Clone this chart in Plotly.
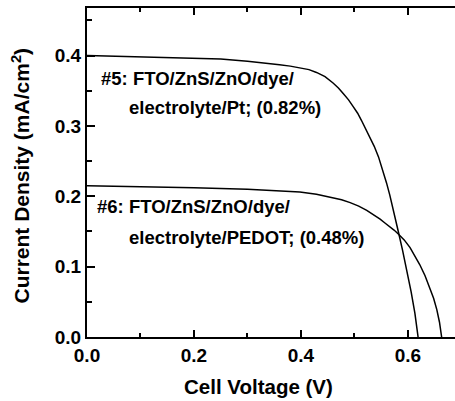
import plotly.graph_objects as go

# Cell #5: FTO/ZnS/ZnO/dye/electrolyte/Pt
v5 = [0.00, 0.05, 0.10, 0.15, 0.20, 0.25, 0.30, 0.33, 0.36, 0.38, 0.398, 0.415, 0.429, 0.445,
      0.460, 0.470, 0.479, 0.489, 0.498, 0.506, 0.513, 0.521, 0.529, 0.537, 0.545, 0.553,
      0.560, 0.566, 0.574, 0.582, 0.590, 0.598, 0.606, 0.613, 0.619]
j5 = [0.400, 0.399, 0.398, 0.397, 0.396, 0.395, 0.392, 0.390, 0.387, 0.385, 0.382, 0.380, 0.376, 0.370,
      0.361, 0.354, 0.346, 0.337, 0.327, 0.318, 0.308, 0.296, 0.284, 0.271, 0.256, 0.237,
      0.219, 0.202, 0.178, 0.150, 0.123, 0.095, 0.064, 0.034, 0.000]

# Cell #6: FTO/ZnS/ZnO/dye/electrolyte/PEDOT
v6 = [0.00, 0.10, 0.20, 0.30, 0.35, 0.398, 0.429, 0.460, 0.476, 0.492, 0.508, 0.523, 0.536,
      0.548, 0.557, 0.566, 0.574, 0.582, 0.593, 0.604, 0.613, 0.622, 0.632, 0.641, 0.648,
      0.654, 0.659, 0.663]
j6 = [0.215, 0.214, 0.212, 0.210, 0.208, 0.206, 0.203, 0.198, 0.195, 0.191, 0.186, 0.180, 0.174,
      0.1675, 0.162, 0.157, 0.152, 0.1465, 0.138, 0.127, 0.116, 0.103, 0.087, 0.070, 0.055,
      0.039, 0.021, 0.000]

label5 = ["#5: FTO/ZnS/ZnO/dye/", "electrolyte/Pt; (0.82%)"]
label6 = ["#6: FTO/ZnS/ZnO/dye/", "electrolyte/PEDOT; (0.48%)"]

x_title = "Cell Voltage (V)"
y_title = "Current Density (mA/cm<sup>2</sup>)"

FONT = "Arial, Liberation Sans, Helvetica, sans-serif"

fig = go.Figure()
for v, j in ((v5, j5), (v6, j6)):
    fig.add_trace(go.Scatter(x=v, y=j, mode="lines", line=dict(color="black", width=1.5),
                             showlegend=False, hoverinfo="skip"))

W, H = 455, 401
L, R, T, B = 87, 0, 8, 64
pw = W - L - R
ph = H - T - B
xmax = 0.688
ymax = 0.4676

def px2x(px):
    return (px - L) / pw * xmax

def py2y(py):
    return (H - B - py) / ph * ymax

ann_font = dict(family=FONT, size=18.5, color="black", weight="bold")
anns = [
    (label5[0], 101, 85),
    (label5[1], 129, 114),
    (label6[0], 97, 213),
    (label6[1], 128.5, 244),
]
for txt, xl, base in anns:
    fig.add_annotation(x=px2x(xl), y=py2y(base - 6.6), xref="x", yref="y", text=txt, showarrow=False,
                       xanchor="left", yanchor="middle", font=ann_font, borderpad=0, borderwidth=0)

fig.add_annotation(x=(258 - L) / pw, y=(H - B - 386) / ph, xref="paper", yref="paper", text=x_title,
                   showarrow=False, xanchor="center", yanchor="middle",
                   font=dict(family=FONT, size=20.5, color="black", weight="bold"))
fig.add_annotation(x=(20 - L) / pw, y=(H - B - 175.5) / ph, xref="paper", yref="paper", text=y_title,
                   showarrow=False, xanchor="center", yanchor="middle", textangle=-90,
                   font=dict(family=FONT, size=21, color="black", weight="bold"))

tickfont = dict(family=FONT, size=19, color="black", weight="bold")
fig.update_xaxes(range=[0, xmax], tick0=0, dtick=0.2, tickformat=".1f", ticks="inside", ticklen=7, tickwidth=2,
                 tickcolor="black", showline=True, linewidth=2, linecolor="black", mirror="allticks",
                 showgrid=False, zeroline=False, tickfont=tickfont,
                 minor=dict(dtick=0.1, ticks="inside", ticklen=4, tickwidth=2, tickcolor="black", showgrid=False))
fig.update_yaxes(range=[0, ymax], tick0=0, dtick=0.1, tickformat=".1f", ticks="inside", ticklen=8, tickwidth=2,
                 tickcolor="black", showline=True, linewidth=2, linecolor="black", mirror=False,
                 showgrid=False, zeroline=False, tickfont=tickfont,
                 minor=dict(dtick=0.05, ticks="inside", ticklen=5, tickwidth=2, tickcolor="black", showgrid=False))

fig.update_layout(width=W, height=H, margin=dict(l=L, r=R, t=T, b=B, pad=0),
                  plot_bgcolor="white", paper_bgcolor="white")

fig.write_html("out.html")
